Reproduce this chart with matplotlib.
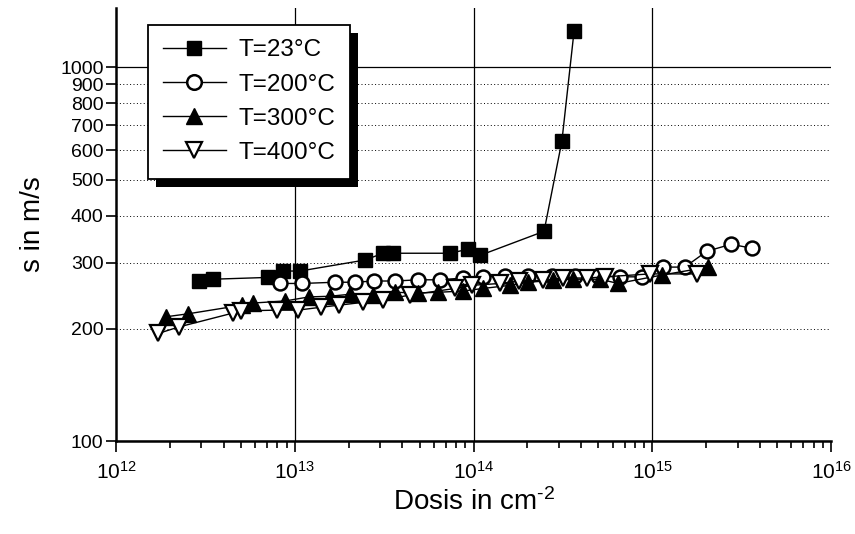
import matplotlib
matplotlib.use("Agg")
from matplotlib import pyplot as plt
from matplotlib import ticker
from matplotlib.patches import Rectangle

# T = 23 C
dose_23 = [2.91e12, 3.49e12, 7.08e12, 8.59e12, 1.07e13, 2.47e13, 3.12e13, 3.55e13,
           7.39e13, 9.31e13, 1.09e14, 2.48e14, 3.12e14, 3.65e14]
s_23 = [268, 271, 274, 285, 285, 305, 318, 318, 318, 326, 314, 364, 634, 1248]

# T = 200 C
dose_200 = [8.27e12, 1.10e13, 1.68e13, 2.17e13, 2.77e13, 3.64e13, 4.89e13, 6.50e13,
            8.74e13, 1.13e14, 1.50e14, 2.02e14, 2.75e14, 3.70e14, 5.00e14, 6.60e14,
            8.77e14, 1.15e15, 1.52e15, 2.02e15, 2.76e15, 3.61e15]
s_200 = [264, 264, 266, 266, 268, 268, 270, 270, 273, 275, 276, 276, 276, 276, 276, 275,
         275, 292, 292, 322, 336, 328]

# T = 300 C
dose_300 = [1.90e12, 2.53e12, 5.07e12, 5.84e12, 8.82e12, 1.20e13, 1.57e13, 2.04e13,
            2.74e13, 3.64e13, 4.89e13, 6.33e13, 8.74e13, 1.13e14, 1.60e14, 2.02e14,
            2.79e14, 3.61e14, 5.10e14, 6.43e14, 1.13e15, 2.05e15]
s_300 = [215, 219, 231, 234, 237, 243, 244, 247, 246, 250, 249, 250, 252, 256, 261, 266,
         269, 271, 271, 264, 278, 292]

# T = 400 C
dose_400 = [1.72e12, 2.25e12, 4.51e12, 5.00e12, 7.96e12, 1.04e13, 1.40e13, 1.77e13,
            2.41e13, 3.12e13, 4.42e13, 7.88e13, 9.81e13, 1.41e14, 1.80e14, 2.45e14,
            3.17e14, 4.32e14, 5.44e14, 9.71e14, 1.78e15]
s_400 = [194, 202, 220, 223, 224, 224, 228, 231, 235, 238, 246, 256, 261, 264, 268, 269,
         273, 273, 275, 280, 280]

labels = ["T=23°C", "T=200°C", "T=300°C", "T=400°C"]
y_ticks_minor = [200, 300, 400, 500, 600, 700, 800, 900]
x_grid = [1e13, 1e14, 1e15]


def main():
    plt.rcParams['font.family'] = ['Liberation Sans', 'DejaVu Sans']
    plt.rcParams['mathtext.default'] = 'regular'

    fig = plt.figure(figsize=(8.55, 5.34), dpi=100)
    ax = fig.add_axes([0.1357, 0.174, 0.972 - 0.1357, 0.985 - 0.174])

    ax.set_xscale('log')
    ax.set_yscale('log')
    ax.set_xlim(1e12, 1e16)
    ax.set_ylim(100, 1440)

    ms = 10
    ax.plot(dose_23, s_23, color='k', lw=1, marker='s', ms=ms, mfc='k', mec='k', label=labels[0])
    ax.plot(dose_200, s_200, color='k', lw=1, marker='o', ms=ms, mfc='white', mec='k', mew=1.8, label=labels[1])
    ax.plot(dose_300, s_300, color='k', lw=1, marker='^', ms=ms + 1, mfc='k', mec='k', label=labels[2])
    ax.plot(dose_400, s_400, color='k', lw=1, marker='v', ms=ms + 1, mfc='white', mec='k', mew=1.6, label=labels[3])

    # y axis: 100 and 1000 major, others minor but labelled
    ax.yaxis.set_major_locator(ticker.FixedLocator([100, 1000]))
    ax.yaxis.set_major_formatter(ticker.FixedFormatter(['100', '1000']))
    ax.yaxis.set_minor_locator(ticker.FixedLocator(y_ticks_minor))
    ax.yaxis.set_minor_formatter(ticker.FixedFormatter([str(v) for v in y_ticks_minor]))

    ax.xaxis.set_major_locator(ticker.LogLocator(base=10, numticks=10))
    ax.xaxis.set_minor_locator(ticker.LogLocator(base=10, subs=range(2, 10), numticks=20))
    ax.xaxis.set_minor_formatter(ticker.NullFormatter())

    ax.tick_params(axis='both', which='both', direction='out', color='k', labelsize=14, width=1.2)
    ax.tick_params(axis='x', labelsize=15)
    ax.tick_params(axis='y', which='both', length=7, pad=2)
    ax.tick_params(axis='x', which='major', length=8, pad=6)
    ax.tick_params(axis='x', which='minor', length=5)

    ax.spines['top'].set_visible(False)
    ax.spines['right'].set_visible(False)
    ax.spines['left'].set_linewidth(1.8)
    ax.spines['bottom'].set_linewidth(1.8)

    # grid: solid at 1000 and the inner decades, dotted at the minor y values
    ax.grid(True, which='major', axis='y', color='k', lw=0.9, ls='-')
    ax.grid(True, which='minor', axis='y', color='k', lw=0.7, ls=(0, (1, 2.5)))
    for xv in x_grid:
        ax.axvline(xv, color='k', lw=0.9, zorder=0.5)
    ax.set_axisbelow(True)

    ax.set_xlabel("Dosis in cm$^{\u2010 2}$", fontsize=20, labelpad=4)
    ax.set_ylabel("s in m/s", fontsize=20, labelpad=10)

    leg = ax.legend(loc='upper left', bbox_to_anchor=(0.045, 0.961), borderaxespad=0,
                    fontsize=17.5, frameon=True, fancybox=False, framealpha=1,
                    edgecolor='k', handlelength=2.6, labelspacing=0.5, borderpad=0.6,
                    handletextpad=0.5, markerscale=1.05)
    leg.get_frame().set_linewidth(1.3)
    leg.set_zorder(6)

    fig.canvas.draw()
    bb = leg.get_window_extent().transformed(fig.transFigure.inverted())
    dx = 8 / fig.bbox.width
    dy = 8 / fig.bbox.height
    shadow = Rectangle((bb.x0 + dx, bb.y0 - dy), bb.width, bb.height, transform=fig.transFigure,
                       facecolor='k', edgecolor='none', zorder=5.5, clip_on=False)
    ax.add_patch(shadow)

    fig.savefig('out.png', dpi=100)


if __name__ == "__main__":
    main()
